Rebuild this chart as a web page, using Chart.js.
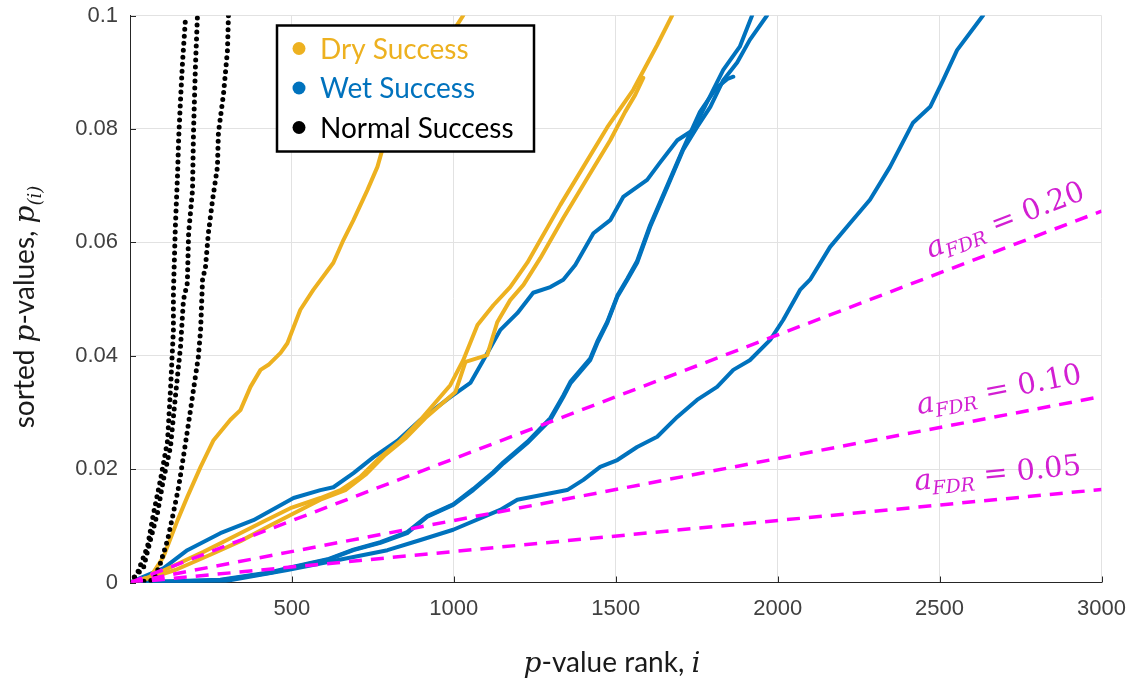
<!DOCTYPE html>
<html>
<head>
<meta charset="utf-8">
<script src="https://cdn.jsdelivr.net/npm/chart.js@4.4.0/dist/chart.umd.min.js"></script>
<style>
  html, body { margin: 0; padding: 0; background: #fff; }
</style>
</head>
<body>
<canvas id="pvalChart" width="1135" height="684"></canvas>
<script>
const rankTicks = [0, 500, 1000, 1500, 2000, 2500, 3000];
const pTicks = [0, 0.02, 0.04, 0.06, 0.08, 0.1];

// sorted p-value curves, [rank i, p(i)]
const dry1 = [[0,0],[63,0.001],[103,0.0045],[147,0.011],[177,0.0151],[218,0.0204],[258,0.0251],[310,0.0287],[341,0.0304],[372,0.0345],[403,0.0375],[430,0.0385],[465,0.0405],[486,0.0422],[526,0.0481],[566,0.0516],[628,0.0564],[659,0.0604],[690,0.0639],[733,0.0692],[764,0.0733],[779,0.0763],[860,0.085],[950,0.093],[1029,0.1]];
const dry2 = [[0,0],[63,0.001],[125,0.0027],[227,0.0054],[310,0.0078],[403,0.0105],[495,0.0131],[588,0.0149],[650,0.0163],[711,0.0186],[773,0.0221],[835,0.025],[897,0.0287],[989,0.0348],[1029,0.0392],[1073,0.0454],[1122,0.0489],[1174,0.0521],[1227,0.0564],[1267,0.0604],[1329,0.0666],[1400,0.0733],[1474,0.0803],[1554,0.0869],[1628,0.0948],[1674,0.1]];
const dry3 = [[0,0],[63,0.0008],[140,0.0022],[248,0.0049],[341,0.0073],[434,0.0101],[526,0.0128],[588,0.0146],[665,0.0163],[727,0.019],[788,0.0225],[850,0.0254],[912,0.029],[1005,0.0336],[1036,0.0389],[1103,0.0401],[1134,0.0459],[1174,0.0498],[1215,0.0525],[1267,0.0572],[1338,0.0643],[1412,0.0713],[1483,0.078],[1529,0.083],[1560,0.086],[1585,0.089]];

const wet1 = [[0,0],[103,0.0025],[177,0.0057],[279,0.0087],[381,0.011],[505,0.0149],[588,0.0163],[628,0.0168],[690,0.0193],[752,0.0221],[826,0.025],[897,0.0287],[989,0.0327],[1051,0.0352],[1091,0.0392],[1143,0.0445],[1196,0.0475],[1245,0.0511],[1298,0.0521],[1338,0.0534],[1375,0.056],[1431,0.0616],[1483,0.0639],[1523,0.068],[1597,0.071],[1636,0.074],[1690,0.078],[1739,0.0798],[1801,0.0869],[1832,0.0904],[1883,0.0945],[1921,0.1]];
const wet2 = [[0,0],[279,0.0004],[434,0.0017],[505,0.0027],[610,0.004],[690,0.0057],[773,0.007],[856,0.0087],[918,0.0116],[998,0.0137],[1060,0.0163],[1122,0.0193],[1153,0.021],[1227,0.0246],[1298,0.0287],[1338,0.0327],[1361,0.0352],[1421,0.0392],[1443,0.0422],[1474,0.0458],[1505,0.0504],[1536,0.0534],[1566,0.0564],[1606,0.0627],[1659,0.0697],[1708,0.0763],[1751,0.0803],[1792,0.0839],[1832,0.0886],[1875,0.0917],[1914,0.0957],[1967,0.1]];
const wet3 = [[0,0],[279,0.0005],[434,0.0018],[505,0.0028],[610,0.0041],[690,0.0058],[773,0.0071],[856,0.0089],[918,0.0117],[998,0.0138],[1060,0.0165],[1122,0.0195],[1153,0.0212],[1227,0.0248],[1298,0.029],[1338,0.033],[1361,0.0355],[1421,0.0395],[1443,0.0425],[1474,0.046],[1505,0.0506],[1536,0.0536],[1566,0.0567],[1606,0.063],[1659,0.07],[1708,0.0765],[1760,0.083],[1810,0.0872],[1845,0.0888],[1863,0.0892]];
const wet4 = [[0,0],[279,0.0001],[486,0.0022],[690,0.0045],[795,0.0057],[897,0.0075],[998,0.0093],[1143,0.0128],[1196,0.0146],[1350,0.0163],[1400,0.0181],[1452,0.0204],[1505,0.0216],[1566,0.0239],[1628,0.0257],[1690,0.0292],[1751,0.0322],[1813,0.0345],[1863,0.0375],[1914,0.0392],[1977,0.0428],[2017,0.0463],[2069,0.0516],[2100,0.0534],[2162,0.0592],[2224,0.0634],[2285,0.0675],[2347,0.0733],[2418,0.0811],[2471,0.0839],[2511,0.0886],[2554,0.0939],[2634,0.1]];

const normal1 = [[0,0],[23,0.0017],[54,0.0063],[73,0.0123],[94,0.0181],[116,0.025],[125,0.034],[134,0.0445],[134,0.0511],[140,0.0627],[147,0.0722],[150,0.078],[156,0.0851],[162,0.0916],[171,0.0992]];
const normal2 = [[0,0],[42,0.0027],[63,0.0075],[85,0.0123],[103,0.0181],[125,0.0239],[140,0.0327],[156,0.0416],[165,0.0498],[177,0.0528],[181,0.0616],[193,0.0692],[196,0.0793],[202,0.091],[208,0.0996]];
const normal3 = [[0,0],[73,0.0004],[94,0.0034],[116,0.0075],[134,0.0123],[150,0.0168],[165,0.0222],[181,0.0282],[196,0.034],[211,0.0398],[218,0.0445],[224,0.0534],[233,0.0556],[242,0.0616],[255,0.0675],[270,0.0733],[273,0.0793],[289,0.0863],[301,0.0939],[304,0.1]];

// BH thresholds: straight lines from the origin to p at rank 3000
const fdrLevels = ['0.20', '0.10', '0.05'];
const fdrEndP = [0.0655, 0.0328, 0.0164];
const fdrEndRank = 3000;
const fdrLabelRank = [2490, 2445, 2430];

const groupNames = ['Dry Success', 'Wet Success', 'Normal Success'];
const groupColors = ['#EDB120', '#0072BD', '#000000'];

const SANS = 'Lato';
const MATH = '"DejaVu Serif"';
const MAGENTA = '#ff00ff';

const curve = (pts, color, order) => ({
  data: pts.map(([x, y]) => ({ x, y })),
  showLine: true,
  borderColor: color,
  borderWidth: 4,
  pointRadius: 0,
  borderCapStyle: 'round',
  borderJoinStyle: 'round',
  order
});
const dotted = (pts) => ({ ...curve(pts, groupColors[2], 1), borderDash: [0, 7], borderWidth: 5 });
const fdrLine = (k) => ({
  data: [{ x: 0, y: 0 }, { x: fdrEndRank, y: fdrEndP[k] }],
  showLine: true,
  borderColor: MAGENTA,
  borderWidth: 3.5,
  borderDash: [13, 9],
  pointRadius: 0,
  order: 0
});

function drawRun(ctx, pieces, x, y) {
  for (const p of pieces) {
    ctx.font = p.font;
    ctx.fillText(p.text, x, y + (p.dy || 0));
    x += ctx.measureText(p.text).width;
  }
}
function runWidth(ctx, pieces) {
  let w = 0;
  for (const p of pieces) { ctx.font = p.font; w += ctx.measureText(p.text).width; }
  return w;
}

const decor = {
  id: 'decor',
  afterDatasetsDraw(chart) {
    const { ctx, chartArea: a, scales: { x, y } } = chart;
    ctx.save();

    // inward tick marks
    ctx.strokeStyle = '#262626';
    ctx.lineWidth = 1;
    ctx.beginPath();
    rankTicks.forEach(v => {
      const px = Math.round(x.getPixelForValue(v)) + 0.5;
      ctx.moveTo(px, a.bottom); ctx.lineTo(px, a.bottom - 6);
    });
    pTicks.forEach(v => {
      const py = Math.round(y.getPixelForValue(v)) + 0.5;
      ctx.moveTo(a.left, py); ctx.lineTo(a.left + 6, py);
    });
    ctx.stroke();

    // alpha_FDR labels along the threshold lines
    ctx.fillStyle = '#d21fd2';
    ctx.textBaseline = 'alphabetic';
    ctx.textAlign = 'left';
    fdrLevels.forEach((lvl, k) => {
      const x0 = x.getPixelForValue(0), y0 = y.getPixelForValue(0);
      const x1 = x.getPixelForValue(fdrEndRank), y1 = y.getPixelForValue(fdrEndP[k]);
      const ang = Math.atan2(y1 - y0, x1 - x0);
      const r = fdrLabelRank[k];
      const px = x.getPixelForValue(r);
      const py = y.getPixelForValue(fdrEndP[k] * r / fdrEndRank);
      ctx.save();
      ctx.translate(px, py);
      ctx.rotate(ang);
      drawRun(ctx, [
        { text: 'a', font: `italic 29px ${MATH}` },
        { text: 'FDR', font: `italic 19px ${MATH}`, dy: 6 },
        { text: ' = ' + lvl, font: `29px ${MATH}` }
      ], 0, -17);
      ctx.restore();
    });

    // legend box
    const lx = a.left + 147, ly = a.top + 10, lw = 257, lh = 126;
    ctx.fillStyle = '#fff';
    ctx.fillRect(lx, ly, lw, lh);
    ctx.strokeStyle = '#000';
    ctx.lineWidth = 2.5;
    ctx.strokeRect(lx, ly, lw, lh);
    ctx.textBaseline = 'middle';
    ctx.font = `28px ${SANS}`;
    groupNames.forEach((name, k) => {
      const ry = ly + 23 + k * 39.5;
      ctx.fillStyle = groupColors[k];
      ctx.beginPath();
      ctx.arc(lx + 22, ry, 6.5, 0, Math.PI * 2);
      ctx.fill();
      ctx.fillText(name, lx + 43, ry + 1);
    });

    // axis titles
    ctx.fillStyle = '#1a1a1a';
    ctx.textBaseline = 'alphabetic';
    const xTitle = [
      { text: 'p', font: `italic 28px ${MATH}` },
      { text: '-value rank, ', font: `28px ${SANS}` },
      { text: 'i', font: `italic 28px ${MATH}` }
    ];
    drawRun(ctx, xTitle, 612 - runWidth(ctx, xTitle) / 2, 672);

    const yTitle = [
      { text: 'sorted ', font: `28px ${SANS}` },
      { text: 'p', font: `italic 28px ${MATH}` },
      { text: '-values, ', font: `28px ${SANS}` },
      { text: 'p', font: `italic 28px ${MATH}` },
      { text: '(i)', font: `italic 18px ${MATH}`, dy: 7 }
    ];
    ctx.save();
    ctx.translate(34, 307);
    ctx.rotate(-Math.PI / 2);
    drawRun(ctx, yTitle, -runWidth(ctx, yTitle) / 2, 0);
    ctx.restore();

    ctx.restore();
  }
};

new Chart(document.getElementById('pvalChart'), {
  type: 'scatter',
  data: {
    datasets: [
      fdrLine(0), fdrLine(1), fdrLine(2),
      dotted(normal1), dotted(normal2), dotted(normal3),
      curve(dry1, groupColors[0], 2), curve(dry2, groupColors[0], 2), curve(dry3, groupColors[0], 2),
      curve(wet1, groupColors[1], 3), curve(wet2, groupColors[1], 3),
      curve(wet3, groupColors[1], 3), curve(wet4, groupColors[1], 3)
    ]
  },
  options: {
    responsive: false,
    animation: false,
    devicePixelRatio: 1,
    layout: { padding: { top: 15.5, right: 33.5, bottom: 0, left: 0 } },
    plugins: { legend: { display: false }, tooltip: { enabled: false } },
    scales: {
      x: {
        type: 'linear', min: 0, max: 3000,
        afterBuildTicks: s => { s.ticks = rankTicks.map(v => ({ value: v })); },
        afterFit: s => { s.height = 101.5; s.paddingLeft = 0; s.paddingRight = 0; },
        ticks: {
          callback: v => (v === 0 ? '' : String(v)),
          color: '#404040',
          font: { family: 'Liberation Sans', size: 22 },
          padding: 13, maxRotation: 0, autoSkip: false
        },
        grid: { color: '#e2e2e2', lineWidth: 1, drawTicks: false },
        border: { display: true, color: '#262626', width: 1 }
      },
      y: {
        type: 'linear', min: 0, max: 0.1,
        afterBuildTicks: s => { s.ticks = pTicks.map(v => ({ value: v })); },
        afterFit: s => { s.width = 130; s.paddingTop = 0; s.paddingBottom = 0; },
        ticks: {
          callback: v => (v === 0 ? '0' : String(+v.toFixed(2))),
          color: '#404040',
          font: { family: 'Liberation Sans', size: 22 },
          padding: 12
        },
        grid: { color: '#e2e2e2', lineWidth: 1, drawTicks: false },
        border: { display: true, color: '#262626', width: 1 }
      }
    }
  },
  plugins: [decor]
});
</script>
</body>
</html>
